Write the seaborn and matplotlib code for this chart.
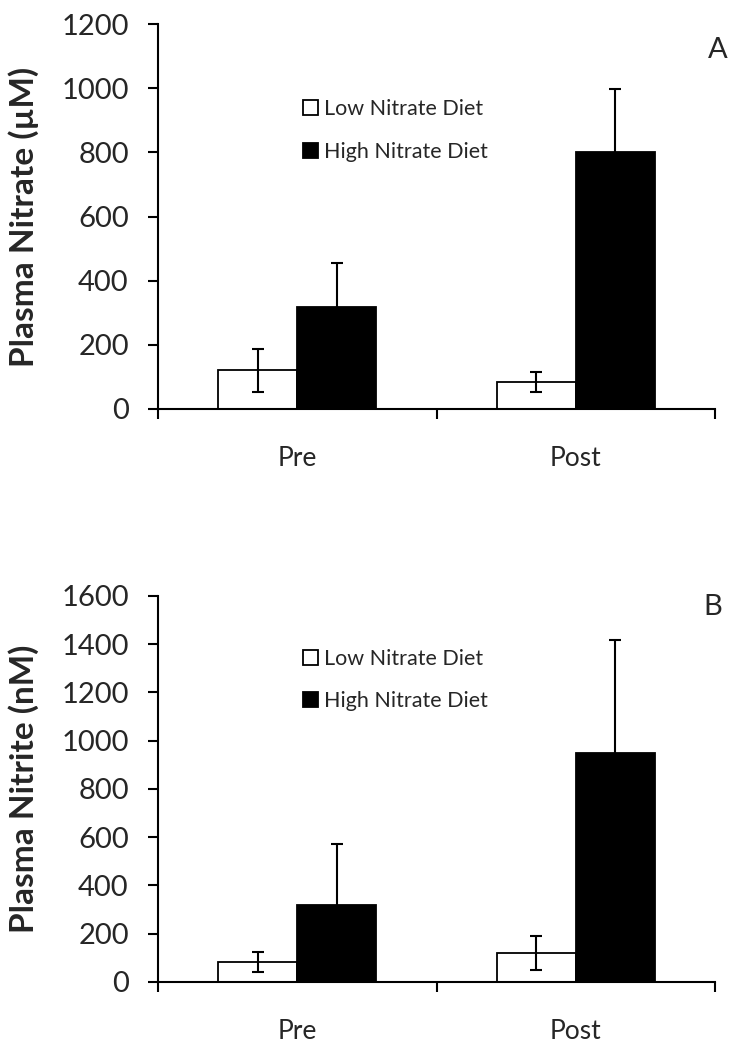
import matplotlib
matplotlib.use("Agg")
import matplotlib.pyplot as plt
import seaborn as sns
import pandas as pd
from matplotlib.ticker import FixedLocator

# data
timepoints = ["Pre", "Post"]
diets = ["Low Nitrate Diet", "High Nitrate Diet"]

nitrate_low = [120, 83]
nitrate_high = [317, 802]
nitrate_low_sd = [67, 31]
nitrate_high_sd = [137, 196]

nitrite_low = [83, 120]
nitrite_high = [318, 947]
nitrite_low_sd = [42, 71]
nitrite_high_sd = [253, 471]

sns.set_theme(style="white")
plt.rcParams["font.family"] = ["Lato", "DejaVu Sans"]


def make_frame(low, high):
    return pd.DataFrame({
        "time": timepoints * 2,
        "diet": [diets[0]] * 2 + [diets[1]] * 2,
        "value": list(low) + list(high),
    })


def draw_panel(ax, low, high, low_sd, high_sd, ymax, ylabel, letter,
               letter_pos, leg_y):
    df = make_frame(low, high)

    sns.barplot(
        data=df,
        x="time",
        y="value",
        hue="diet",
        hue_order=diets,
        order=timepoints,
        palette=["white", "black"],
        edgecolor="black",
        linewidth=1.3,
        width=0.567,
        errorbar=None,
        saturation=1,
        ax=ax
    )

    for container, err in zip(ax.containers, [low_sd, high_sd]):
        xs = [p.get_x() + p.get_width() / 2 for p in container]
        ys = [p.get_height() for p in container]
        ax.errorbar(
            xs, ys, yerr=err,
            fmt="none",
            ecolor="black",
            elinewidth=1.5,
            capsize=4.5,
            capthick=1.5,
            zorder=5
        )

    ax.set_xlim(-0.5, 1.5)
    ax.set_ylim(0, ymax)
    ax.set_yticks(range(0, ymax + 1, 200))

    ax.xaxis.set_minor_locator(FixedLocator([-0.5, 0.5, 1.5]))
    ax.tick_params(axis="x", which="major", length=0, labelsize=19, pad=27)
    ax.tick_params(axis="x", which="minor", length=7, width=1.5,
                   direction="out", bottom=True, color="black")
    ax.tick_params(axis="y", length=7, width=1.5, direction="out",
                   left=True, color="black", labelsize=21, pad=14)

    sns.despine(ax=ax)
    for side in ["left", "bottom"]:
        ax.spines[side].set_color("black")
        ax.spines[side].set_linewidth(1.5)

    ax.set_xlabel("")
    ax.set_ylabel(ylabel, fontsize=24, fontweight="bold", labelpad=16)

    handles, labels = ax.get_legend_handles_labels()
    ax.legend(
        handles, labels,
        loc="upper left",
        bbox_to_anchor=(0.225, leg_y),
        frameon=False,
        fontsize=15.5,
        handlelength=0.7,
        handleheight=0.7,
        handletextpad=0.3,
        labelspacing=1.05
    )

    ax.text(letter_pos[0], letter_pos[1], letter, transform=ax.transAxes,
            fontsize=21, ha="right", va="center")


fig = plt.figure(figsize=(7.38, 10.5), dpi=100)
ax_top = fig.add_axes([0.214, 0.6105, 0.755, 0.3665])
ax_bot = fig.add_axes([0.214, 0.065, 0.755, 0.3675])

draw_panel(ax_top, nitrate_low, nitrate_high, nitrate_low_sd, nitrate_high_sd,
           1200, "Plasma Nitrate (\u00b5M)", "A", (1.023, 0.932), 0.855)
draw_panel(ax_bot, nitrite_low, nitrite_high, nitrite_low_sd, nitrite_high_sd,
           1600, "Plasma Nitrite (nM)", "B", (1.012, 0.972), 0.913)

fig.savefig("out.png", dpi=100)
plt.close(fig)
